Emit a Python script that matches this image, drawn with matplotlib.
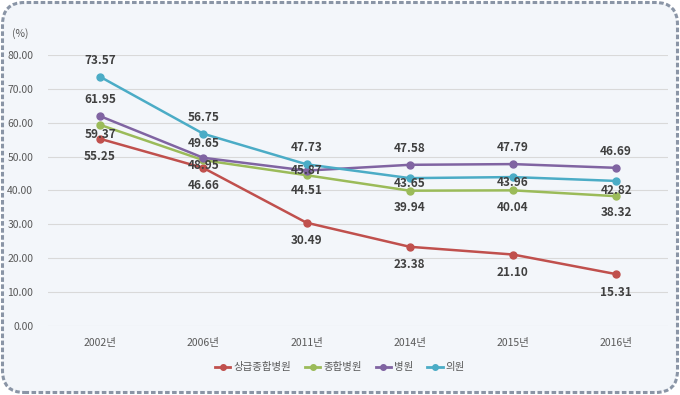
import numpy as np
import matplotlib.pyplot as plt
from matplotlib.patches import FancyBboxPatch
from matplotlib.lines import Line2D
from matplotlib.transforms import IdentityTransform

plt.rcParams['font.family'] = ['Noto Sans CJK KR', 'DejaVu Sans']

years = ['2002년', '2006년', '2011년', '2014년', '2015년', '2016년']
series_names = ['상급종합병원', '종합병원', '병원', '의원']
v_tertiary = [55.25, 46.66, 30.49, 23.38, 21.10, 15.31]
v_general = [59.37, 48.95, 44.51, 39.94, 40.04, 38.32]
v_hospital = [61.95, 49.65, 45.87, 47.58, 47.79, 46.69]
v_clinic = [73.57, 56.75, 47.73, 43.65, 43.96, 42.82]
values = [v_tertiary, v_general, v_hospital, v_clinic]

colors = ['#C0504D', '#9BBB59', '#8064A2', '#4BACC6']
# label vertical offsets in points (+ up)
label_dy = [
    [-13, -13, -13, -13, -13, -13],
    [-7, -4, -11, -12, -12, -12],
    [12, 10, 0, 12, 12, 12],
    [12, 12, 12, -4, -4, -7],
]

fig = plt.figure(figsize=(6.8, 3.95), dpi=100)
fig.patch.set_facecolor('white')
# rounded dashed frame, in pixels
box = FancyBboxPatch((2.5, 2.5), 675, 390,
                     boxstyle='round,pad=0,rounding_size=22',
                     transform=IdentityTransform(), facecolor='#F3F6FA',
                     edgecolor='#8A95A6', linewidth=2.2, linestyle=(0, (1.5, 0.8)),
                     zorder=-10)
fig.patches.append(box)

ax = fig.add_axes([0.0713, 0.1747, 0.9107, 0.6861])
ax.set_facecolor('none')
ax.set_zorder(1)
x = np.arange(len(years))
for vals, c, name, dys in zip(values, colors, series_names, label_dy):
    ax.plot(x, vals, color=c, lw=1.8, marker='o', ms=5, label=name, zorder=3)
    for xi, v, dy in zip(x, vals, dys):
        ax.annotate(f'{v:.2f}', (xi, v), xytext=(0, dy), textcoords='offset points',
                    ha='center', va='center', fontsize=8.5, fontweight='bold',
                    color='#404040', zorder=4)

ax.set_xlim(-0.5, len(years) - 0.5)
ax.set_ylim(0, 80)
ax.set_yticks(np.arange(0, 81, 10))
ax.set_yticklabels([f'{t:.2f}' for t in np.arange(0, 81, 10)])
ax.set_xticks(x)
ax.set_xticklabels(years)
ax.grid(axis='y', color='#D9D9D9', lw=0.8)
ax.set_axisbelow(True)
for s in ax.spines.values():
    s.set_visible(False)
ax.tick_params(axis='both', length=0, labelsize=7.5, colors='#595959')
ax.tick_params(axis='y', pad=11)
ax.tick_params(axis='x', pad=9)

fig.text(0.018, 0.916, '(%)', fontsize=7.5, color='#595959', va='center')

handles = [Line2D([], [], color=c, lw=2, marker='o', ms=4) for c in colors]
fig.legend(handles, series_names, loc='center', bbox_to_anchor=(0.5, 0.07),
           ncol=4, frameon=False, fontsize=7.5, labelcolor='#595959',
           handlelength=1.5, handletextpad=0.3, columnspacing=1.3)

fig.savefig('out.png', dpi=100)
